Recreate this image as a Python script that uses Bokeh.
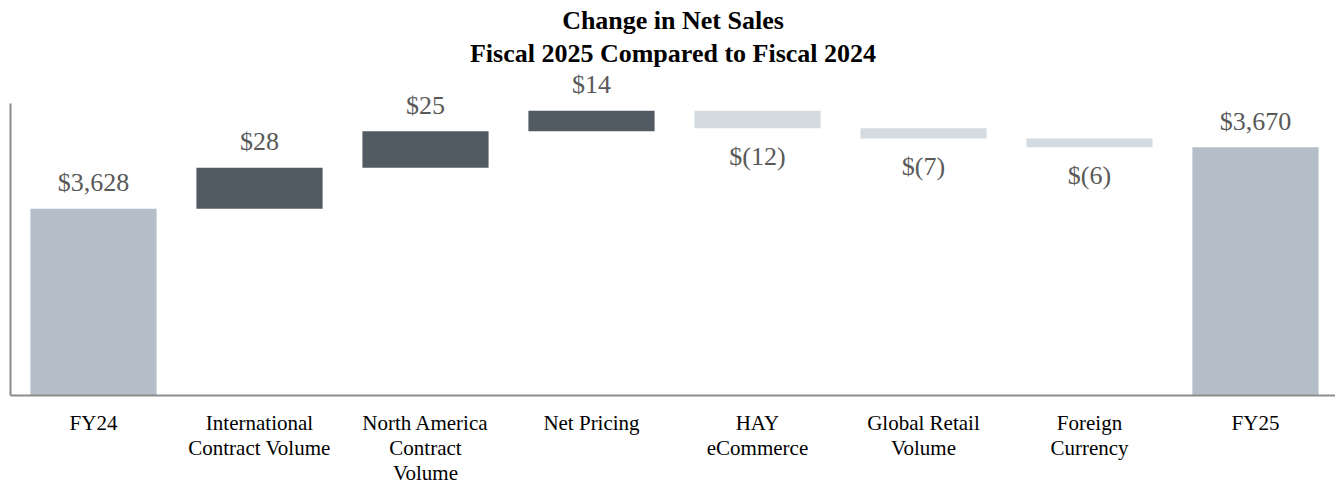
from bokeh.plotting import figure
from bokeh.models import ColumnDataSource, Range1d, FixedTicker, Title
from bokeh.core.properties import value
from bokeh.embed import file_html
from bokeh.resources import INLINE

# ---- data ----
categories = ["FY24", "International\nContract Volume", "North America\nContract\nVolume",
              "Net Pricing", "HAY\neCommerce", "Global Retail\nVolume", "Foreign\nCurrency", "FY25"]
values = [3628, 28, 25, 14, -12, -7, -6, 3670]
kinds = ["total", "change", "change", "change", "change", "change", "change", "total"]

title_line1 = "Change in Net Sales"
title_line2 = "Fiscal 2025 Compared to Fiscal 2024"

COL_TOTAL = "#B4BEC9"
COL_UP = "#525A64"
COL_DOWN = "#D3DBE0"
FONT = "Liberation Serif"

# ---- waterfall geometry from data ----
xs, bottoms, tops, colors = [], [], [], []
pos_x, pos_y, pos_t = [], [], []
neg_x, neg_y, neg_t = [], [], []
running = 0
for i, (v, k) in enumerate(zip(values, kinds)):
    xs.append(i)
    if k == "total":
        b, t = 0, v
        running = v
        colors.append(COL_TOTAL)
        pos_x.append(i); pos_y.append(t); pos_t.append("${:,}".format(v))
    else:
        b, t = running, running + v
        running = t
        if v >= 0:
            colors.append(COL_UP)
            pos_x.append(i); pos_y.append(max(b, t)); pos_t.append("${:,}".format(v))
        else:
            colors.append(COL_DOWN)
            neg_x.append(i); neg_y.append(min(b, t)); neg_t.append("$({:,})".format(-v))
    bottoms.append(min(b, t))
    tops.append(max(b, t))

src = ColumnDataSource(dict(x=xs, bottom=bottoms, top=tops, color=colors))

p = figure(width=1335, height=487, output_backend="svg", toolbar_location=None,
           x_range=Range1d(-0.5, 7.482), y_range=Range1d(3500, 3724.7),
           min_border_left=10, min_border_right=0, min_border_top=67, min_border_bottom=92)
p.outline_line_color = None
p.grid.visible = False
p.background_fill_color = "white"
p.border_fill_color = "white"

p.vbar(x="x", bottom="bottom", top="top", width=0.76, color="color", line_color=None, source=src)

p.text(x=pos_x, y=pos_y, text=pos_t, text_align="center", text_baseline="alphabetic",
       y_offset=-26, text_font=value(FONT), text_font_size="26px", text_color="#595959")
p.text(x=neg_x, y=neg_y, text=neg_t, text_align="center", text_baseline="alphabetic",
       y_offset=28, text_font=value(FONT), text_font_size="26px", text_color="#595959")

# axes
xa = p.xaxis[0]
xa.ticker = FixedTicker(ticks=list(range(len(categories))))
xa.major_label_overrides = {i: c for i, c in enumerate(categories)}
xa.major_tick_line_color = None
xa.minor_tick_line_color = None
xa.major_tick_out = 0
xa.minor_tick_out = 0
xa.axis_line_color = "#8C8C8C"
xa.axis_line_width = 2
xa.major_label_text_font = FONT
xa.major_label_text_font_size = "21px"
xa.major_label_text_color = "black"
xa.major_label_standoff = 15
xa.major_label_text_line_height = 1.05

ya = p.yaxis[0]
ya.bounds = (3500, 3700)
ya.ticker = FixedTicker(ticks=[])
ya.major_tick_line_color = None
ya.minor_tick_line_color = None
ya.major_tick_out = 0
ya.minor_tick_out = 0
ya.major_label_standoff = 0
ya.axis_line_color = "#8C8C8C"
ya.axis_line_width = 2

# titles (added nearest-first)
p.add_layout(Title(text=title_line2, align="center", text_font=FONT, text_font_size="26px",
                   text_font_style="bold", text_color="black", standoff=0), "above")
p.add_layout(Title(text=title_line1, align="center", text_font=FONT, text_font_size="26px",
                   text_font_style="bold", text_color="black", standoff=3), "above")

open("out.html", "w").write(file_html(p, INLINE))
